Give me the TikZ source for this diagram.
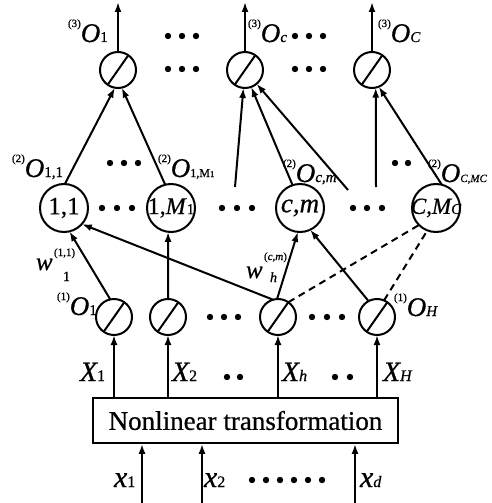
\documentclass[tikz,border=0pt]{standalone}
\usepackage{fontspec}
\setmainfont[FakeBold=0.6]{Liberation Serif}
\usetikzlibrary{arrows.meta}
\newcommand{\fs}[1]{\fontsize{#1}{#1}\selectfont}
\newcommand{\olab}[2]{{\fs{11}\raisebox{15pt}{(#1)}}{\fs{27}\itshape O}{\fs{15}#2}}
\begin{document}
\begin{tikzpicture}[x=1pt,y=-1pt,
  ln/.style={line width=2pt},
  arr/.style={ln,-{Latex[length=10pt,width=7pt]}},
  dsh/.style={ln,dash pattern=on 7pt off 5pt},
  unit/.style={circle,draw,line width=2pt,minimum size=36pt,inner sep=0pt,outer sep=0pt},
  big/.style={circle,draw,line width=2pt,minimum size=48pt,inner sep=0pt,outer sep=0pt},
  lab/.style={anchor=base west,inner sep=0pt,outer sep=0pt}
]
\useasboundingbox (0,0) rectangle (491,503);
\fill[white] (0,0) rectangle (491,503);

% layer 3
\node[unit] (t1) at (118,70) {};
\node[unit] (tc) at (245,70) {};
\node[unit] (tC) at (372,70) {};
% layer 2
\node[big] (n11) at (64,208) {\makebox[0pt]{\fs{25}1,1}};
\node[big] (n1M) at (171,208) {\makebox[0pt]{\fs{24}1,\textit{M}{\fs{15}1}}};
\node[big] (ncm) at (300,208) {\makebox[0pt]{\fs{27}\itshape c,m}};
\node[big] (nC) at (436,208) {\makebox[0pt]{\fs{23}\itshape C,M{\fs{15}C}}};
% layer 1
\node[unit] (b1) at (114,317) {};
\node[unit] (b2) at (168,317) {};
\node[unit] (bh) at (278,317) {};
\node[unit] (bH) at (377,317) {};
\foreach \n in {t1,tc,tC,b1,b2,bh,bH} \draw[ln] (\n.235) -- (\n.55);

% box
\node[draw,line width=1.7pt,minimum width=305pt,minimum height=45pt,inner sep=0pt,font=\fs{27}] (nl) at (245.5,420.5) {Nonlinear transformation};

% outputs
\coordinate (o1) at (118,2);
\coordinate (oc) at (245,2);
\coordinate (oC) at (372,2);
\draw[arr] (t1) -- (o1);
\draw[arr] (tc) -- (oc);
\draw[arr] (tC) -- (oC);

% layer2 -> layer3
\coordinate (f1) at (235,187);
\coordinate (f2) at (348,190);
\coordinate (f3) at (376,187);
\draw[arr] (n11.88) -- (t1.260);
\draw[arr] (n1M.104) -- (t1.282);
\draw[arr] (f1) -- (tc.265);
\draw[arr] (ncm.108) -- (tc.290);
\draw[arr] (f2) -- (tc.310);
\draw[arr] (f3) -- (tC.282);
\draw[arr] (nC.76) -- (tC.292);

% layer1 -> layer2
\draw[arr] (b1.102) -- (n11.283);
\draw[arr] (b2.north) -- (n1M.263);
\draw[arr] (bh.106) -- (n11.318);
\draw[arr] (bh.93) -- (ncm.265);
\draw[arr] (bH.118) -- (ncm.295);
\draw[dsh] (bh.55) -- (nC.225);
\draw[dsh] (bH.67) -- (nC.249);

% box -> layer1
\foreach \n in {b1,b2,bh,bH} \draw[arr] (\n |- nl.north) -- (\n.south);
% inputs
\coordinate (i1) at (142,503);
\coordinate (i2) at (202,503);
\coordinate (id) at (355,503);
\foreach \n in {i1,i2,id} \draw[arr] (\n) -- (\n |- nl.south);

% dots
\foreach \x/\y in {168/36,182/36,196/36,168/69,182/69,196/69,
  295/36,309/36,323/36,295/69,309/69,323/69,
  110/163,124/163,138/163,102/208,117/208,132/208,
  222/208,237/208,252/208,353/208,367/208,382/208,395/163,408/163,
  210/317,224/317,238/317,312/317,327/317,342/317,
  227/377,240/377,335/377,350/377,
  252/480,266/480,280/480,294/480,308/480,322/480}
  \fill (\x,\y) circle (3.2pt);

% labels
\node[lab] (L31) at (68,42) {\olab{3}{1}};
\node[lab] (L3c) at (248,42) {\olab{3}{\itshape c}};
\node[lab] (L3C) at (378,42) {\olab{3}{\itshape C}};
\node[lab] (L211) at (12,177) {\olab{2}{1,1}};
\node[lab] (L21M) at (158,177) {\olab{2}{\fs{12}1,M{\fs{9}1}}};
\node[lab] (L2cm) at (283,182) {\olab{2}{\itshape c,m}};
\node[lab] (L2CM) at (428,182) {\olab{2}{\itshape\fs{11}C,MC}};
\node[lab] (L11) at (57,315) {\olab{1}{1}};
\node[lab] (L1H) at (394,316) {\olab{1}{\itshape H}};

\node[lab,font=\fs{25}\itshape] (w1) at (36,270) {w};
\node[lab,font=\fs{11}] (w1s) at (54,256) {(1,1)};
\node[lab,font=\fs{14}] (w1b) at (63,281) {1};
\node[lab,font=\fs{25}\itshape] (wh) at (246,278) {w};
\node[lab,font=\fs{11}] (whs) at (264,260) {(\textit{c,m})};
\node[lab,font=\fs{14}\itshape] (whb) at (270,282) {h};

\node[lab] (X1) at (80,381) {{\fs{28}\itshape X}{\fs{16}1}};
\node[lab] (X2) at (172,381) {{\fs{28}\itshape X}{\fs{16}2}};
\node[lab] (Xh) at (282,381) {{\fs{28}\itshape X}{\fs{16}\itshape h}};
\node[lab] (XH) at (383,381) {{\fs{28}\itshape X}{\fs{16}\itshape H}};

\node[lab] (x1) at (114,487) {{\fs{30}\itshape x}{\fs{16}1}};
\node[lab] (x2) at (204,487) {{\fs{30}\itshape x}{\fs{16}2}};
\node[lab] (xd) at (360,487) {{\fs{30}\itshape x}{\fs{16}\itshape d}};
\end{tikzpicture}
\end{document}
